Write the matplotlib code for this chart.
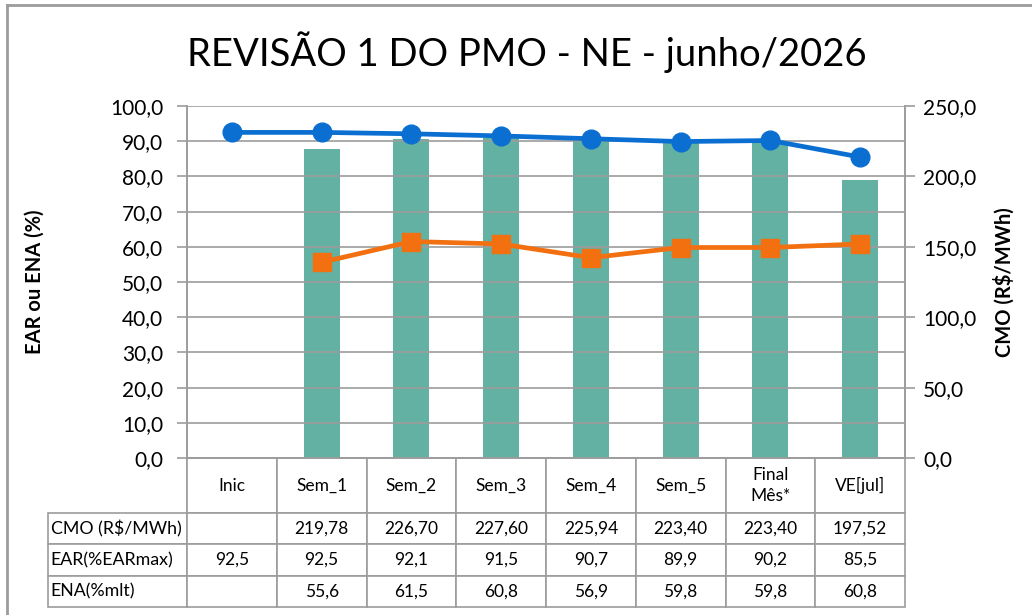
import numpy as np
import matplotlib
matplotlib.use("Agg")
import matplotlib.pyplot as plt
from matplotlib.ticker import FuncFormatter, MultipleLocator
from matplotlib.lines import Line2D

plt.rcParams['font.family'] = ['Lato', 'DejaVu Sans']

categorias = ["Inic", "Sem_1", "Sem_2", "Sem_3", "Sem_4", "Sem_5", "Final\nMês*", "VE[jul]"]
cmo = [np.nan, 219.78, 226.70, 227.60, 225.94, 223.40, 223.40, 197.52]
ear = [92.5, 92.5, 92.1, 91.5, 90.7, 89.9, 90.2, 85.5]
ena = [np.nan, 55.6, 61.5, 60.8, 56.9, 59.8, 59.8, 60.8]
linhas = ["CMO (R$/MWh)", "EAR(%EARmax)", "ENA(%mlt)"]

cor_barra = "#63B1A2"
cor_ear = "#0A6FD1"
cor_ena = "#F2700F"
cinza = "#9C9C9C"

W, H = 1032, 615
fig = plt.figure(figsize=(W / 100, H / 100), dpi=100)

def fx(px):
    return px / W

def fy(py):
    return 1 - py / H

# moldura externa
fig.add_artist(Line2D([fx(7), 1], [fy(5), fy(5)], color=cinza, lw=2))
fig.add_artist(Line2D([fx(7), fx(7)], [0, fy(5)], color=cinza, lw=2))

fmt1 = FuncFormatter(lambda v, p: f"{v:.1f}".replace(".", ","))

ax = fig.add_axes([fx(187), fy(458), fx(905) - fx(187), fy(106) - fy(458)])
ax2 = ax.twinx()
x = np.arange(len(categorias))

ax2.bar(x, cmo, width=0.4, color=cor_barra, zorder=2)
ax2.set_ylim(0, 250)
ax2.yaxis.set_major_locator(MultipleLocator(50))
ax2.yaxis.set_major_formatter(fmt1)

ax.plot(x, ear, color=cor_ear, lw=3.4, marker="o", markersize=13.5, zorder=5)
ax.plot(x, ena, color=cor_ena, lw=3.4, marker="s", markersize=13, zorder=5)
ax.set_ylim(0, 100)
ax.set_xlim(-0.5, len(categorias) - 0.5)
ax.yaxis.set_major_locator(MultipleLocator(10))
ax.yaxis.set_major_formatter(fmt1)
ax.set_xticks([])
ax.grid(axis="y", color=cinza, lw=1.2)
ax.set_axisbelow(True)
ax.set_zorder(ax2.get_zorder() + 1)
ax.patch.set_visible(False)
ax2.grid(False)

for a in (ax, ax2):
    for s in a.spines.values():
        s.set_color(cinza)
        s.set_linewidth(1.2)
    a.spines["top"].set_visible(False)
    a.tick_params(axis="y", colors=cinza, length=7, width=1.2, labelcolor="black",
                  labelsize=15)
ax.tick_params(axis="y", pad=10)
ax2.tick_params(axis="y", pad=6)

ax.set_ylabel("EAR ou ENA (%)", fontsize=14.5, fontweight="bold")
ax.yaxis.set_label_coords(-0.198, 0.5)
ax2.set_ylabel("CMO (R$/MWh)", fontsize=14.5, fontweight="bold", rotation=90)
ax2.yaxis.set_label_coords(1.123, 0.5)

fig.text(fx(527), fy(52), "REVISÃO 1 DO PMO - NE - junho/2026", ha="center", va="center",
         fontsize=27.5)

# tabela: rótulos das linhas como primeira coluna comum
tax = fig.add_axes([fx(48), fy(607), fx(905) - fx(48), fy(458) - fy(607)])
tax.axis("off")

def f2(v):
    return "" if np.isnan(v) else f"{v:.2f}".replace(".", ",")

def f1(v):
    return "" if np.isnan(v) else f"{v:.1f}".replace(".", ",")

cell_text = [[linhas[0]] + [f2(v) for v in cmo],
             [linhas[1]] + [f1(v) for v in ear],
             [linhas[2]] + [f1(v) for v in ena]]
tab = tax.table(cellText=cell_text, colLabels=[""] + categorias,
                cellLoc="center", bbox=[0, 0, 1, 1])
tab.auto_set_font_size(False)
tab.set_fontsize(12.5)
for (r, c), cell in tab.get_celld().items():
    cell.set_edgecolor(cinza)
    cell.set_linewidth(1.2)
    cell.set_width(139 if c == 0 else 89.75)
    cell.set_height(55 if r == 0 else 31.3)
    cell.get_text().set_linespacing(1.35)
    if c == 0:
        cell.PAD = 0.02
        cell.get_text().set_horizontalalignment("left")
        cell.get_text().set_fontsize(12.8)
        cell._loc = "left"
        if r == 0:
            cell.visible_edges = "R"

fig.savefig("out.png", dpi=100)
